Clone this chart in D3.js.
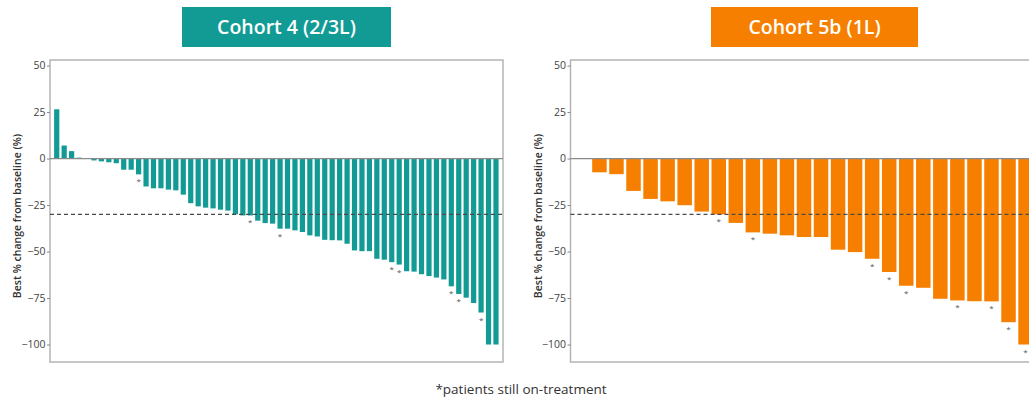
<!DOCTYPE html>
<html>
<head>
<meta charset="utf-8">
<script src="https://cdn.jsdelivr.net/npm/d3@7"></script>
<style>
  html, body { margin: 0; padding: 0; background: #fff; }
  svg { display: block; font-family: "Open Sans", "Noto Sans", sans-serif; }
</style>
</head>
<body>
<svg id="chart" width="1029" height="403"></svg>
<script>
// Best % change from baseline per patient, sorted (waterfall)
const cohort4Values = [26.5, 7, 4, 0.5, 0, -1, -1.5, -2, -2.5, -6, -6, -8.5, -15, -16, -16,
  -16.7, -17.1, -19.4, -24, -25.7, -26.4, -26.8, -27.5, -28, -30, -30.6, -30.6, -33.4, -34.7, -35,
  -37.7, -37.7, -38.6, -39.5, -41.3, -41.9, -43.7, -43.9, -44, -45.8, -49.4, -49.8, -49.8, -53.9, -54.4,
  -55.7, -57, -60.6, -60.8, -62.2, -63.2, -64, -65, -68.7, -72.8, -74.8, -77.7, -82.8, -100, -100];
// 1-based positions of patients still on treatment
const cohort4OnTreatment = [12, 27, 31, 46, 47, 54, 55, 58];

const cohort5bValues = [-7.4, -8.4, -17.4, -21.7, -23, -25.1, -28.5, -30, -34.6, -39.7, -40.4,
  -41.3, -42.2, -42.2, -49, -50.3, -53.9, -61, -68.4, -69.5, -75.4, -76.3, -76.7, -76.8, -88, -100];
const cohort5bOnTreatment = [8, 10, 17, 18, 19, 22, 24, 25, 26];

const yTicks = [50, 25, 0, -25, -50, -75, -100];
const responseThreshold = -30;
const titles = ["Cohort 4 (2/3L)", "Cohort 5b (1L)"];
const yLabel = "Best % change from baseline (%)";
const footnote = "*patients still on-treatment";

const svg = d3.select("#chart");

function drawPanel(opts) {
  const { values, onTreatment, title, color, frame, barRange, padInner, titleBox } = opts;
  const g = svg.append("g");

  const y = d3.scaleLinear().domain([-109.4, 53]).range([frame.bottom, frame.top]);
  const x = d3.scaleBand()
    .domain(values.map((d, i) => i + 1))
    .range(barRange)
    .paddingInner(padInner)
    .paddingOuter(padInner / 2);

  // plot frame
  g.append("rect")
    .attr("x", frame.left).attr("y", frame.top)
    .attr("width", frame.right - frame.left).attr("height", frame.bottom - frame.top)
    .attr("fill", "none").attr("stroke", "#b4b4b4").attr("stroke-width", 1.5);

  // bars
  g.append("g").selectAll("rect")
    .data(values)
    .join("rect")
    .attr("x", (d, i) => x(i + 1))
    .attr("width", x.bandwidth())
    .attr("y", d => y(Math.max(0, d)))
    .attr("height", d => Math.abs(y(d) - y(0)))
    .attr("fill", color);

  // zero line
  g.append("line")
    .attr("x1", frame.left).attr("x2", frame.right)
    .attr("y1", y(0)).attr("y2", y(0))
    .attr("stroke", "#8a8a8a").attr("stroke-width", 1.2);

  // -30% response threshold
  g.append("line")
    .attr("x1", frame.left).attr("x2", frame.right)
    .attr("y1", y(responseThreshold)).attr("y2", y(responseThreshold))
    .attr("stroke", "#4a4a4a").attr("stroke-width", 1.2)
    .attr("stroke-dasharray", "4,3");

  // on-treatment markers
  g.append("g").selectAll("text")
    .data(onTreatment)
    .join("text")
    .attr("x", k => x(k) + x.bandwidth() / 2)
    .attr("y", k => y(Math.min(0, values[k - 1])) + 10)
    .attr("text-anchor", "middle")
    .attr("font-size", 8)
    .attr("fill", "#555")
    .text("*");

  // y axis
  const axis = g.append("g")
    .attr("transform", `translate(${frame.left},0)`)
    .call(d3.axisLeft(y).tickValues(yTicks).tickSize(3).tickPadding(1.5));
  axis.select(".domain").remove();
  axis.selectAll(".tick line").attr("stroke", "#888");
  axis.selectAll(".tick text")
    .attr("font-family", "'Open Sans', sans-serif")
    .attr("font-size", 10.5).attr("fill", "#444");

  // y label
  g.append("text")
    .attr("transform", `translate(${frame.left - 29},${(frame.top + frame.bottom) / 2 + 5}) rotate(-90)`)
    .attr("text-anchor", "middle")
    .attr("font-size", 10.5).attr("font-weight", 600).attr("fill", "#333")
    .text(yLabel);

  // title box
  g.append("rect")
    .attr("x", titleBox.x).attr("y", titleBox.y)
    .attr("width", titleBox.w).attr("height", titleBox.h)
    .attr("fill", color);
  g.append("text")
    .attr("x", titleBox.x + titleBox.w / 2).attr("y", titleBox.y + titleBox.h / 2 + 7)
    .attr("text-anchor", "middle")
    .attr("font-size", 19.5).attr("font-weight", 600).attr("fill", "#fff")
    .text(title);
}

drawPanel({
  values: cohort4Values,
  onTreatment: cohort4OnTreatment,
  title: titles[0],
  color: "#129b95",
  frame: { left: 50, right: 503, top: 60, bottom: 362 },
  barRange: [53, 499.7],
  padInner: 0.3,
  titleBox: { x: 182, y: 7, w: 209, h: 40 }
});

drawPanel({
  values: cohort5bValues,
  onTreatment: cohort5bOnTreatment,
  title: titles[1],
  color: "#f77f00",
  frame: { left: 570.5, right: 1040, top: 60, bottom: 362 },
  barRange: [590.9, 1034.1],
  padInner: 0.15,
  titleBox: { x: 711, y: 7, w: 207, h: 40 }
});

svg.append("text")
  .attr("x", 521).attr("y", 394)
  .attr("text-anchor", "middle")
  .attr("font-size", 13.5).attr("fill", "#333")
  .text(footnote);
</script>
</body>
</html>
